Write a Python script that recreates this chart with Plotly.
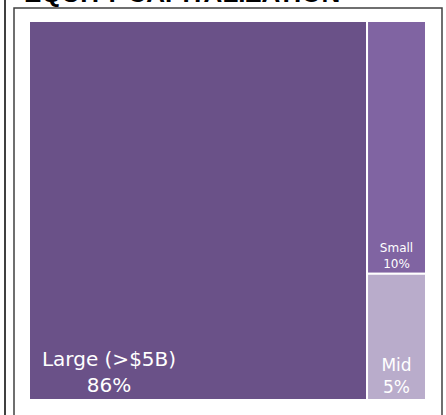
import plotly.graph_objects as go

labels = ["Large (>$5B)", "Small", "Mid"]
values = [86, 10, 5]
colors = ["#6A5188", "#8064A2", "#B9ACCB"]
font_sizes = [20, 12, 17]
# trailing non-breaking spaces shift a label's text block to the left within its tile
label_shift = [28, 0, 0]

W, H = 446, 415

texts = []
for lab, val, n in zip(labels, values, label_shift):
    pad = "&nbsp;" * n
    texts.append(f"{lab}{pad}<br>{val}%{pad}")

fig = go.Figure(go.Treemap(
    labels=labels,
    parents=["", "", ""],
    values=values,
    text=texts,
    marker=dict(colors=colors, line=dict(color="white", width=2), pad=dict(t=0, l=0, r=0, b=0)),
    texttemplate="%{text}",
    textposition="bottom center",
    textfont=dict(family="DejaVu Sans", size=font_sizes, color="white"),
    tiling=dict(packing="squarify", pad=0),
    pathbar=dict(visible=False),
    sort=True,
    hoverinfo="skip",
    domain=dict(x=[29 / W, 426 / W], y=[15 / H, 394 / H]),
))

frame = "#404040"
fig.update_layout(
    width=W, height=H,
    margin=dict(l=0, r=0, t=0, b=0),
    paper_bgcolor="white",
    plot_bgcolor="white",
    showlegend=False,
    shapes=[
        dict(type="line", xref="paper", yref="paper", x0=5 / W, x1=5 / W, y0=-0.05, y1=1.05,
             line=dict(color=frame, width=2)),
        dict(type="rect", xref="paper", yref="paper", x0=14 / W, x1=442 / W, y0=-0.05, y1=(H - 8) / H,
             line=dict(color=frame, width=1.5)),
    ],
    annotations=[
        dict(text="<b>EQUITY CAPITALIZATION</b>", xref="paper", yref="paper",
             x=182 / W, y=(H - 10) / H, xanchor="center", yanchor="bottom",
             showarrow=False, font=dict(family="Liberation Sans", size=26, color="black")),
    ],
)

fig.write_html("out.html", config={"displayModeBar": False},
               post_script="document.body.style.margin='0';")
